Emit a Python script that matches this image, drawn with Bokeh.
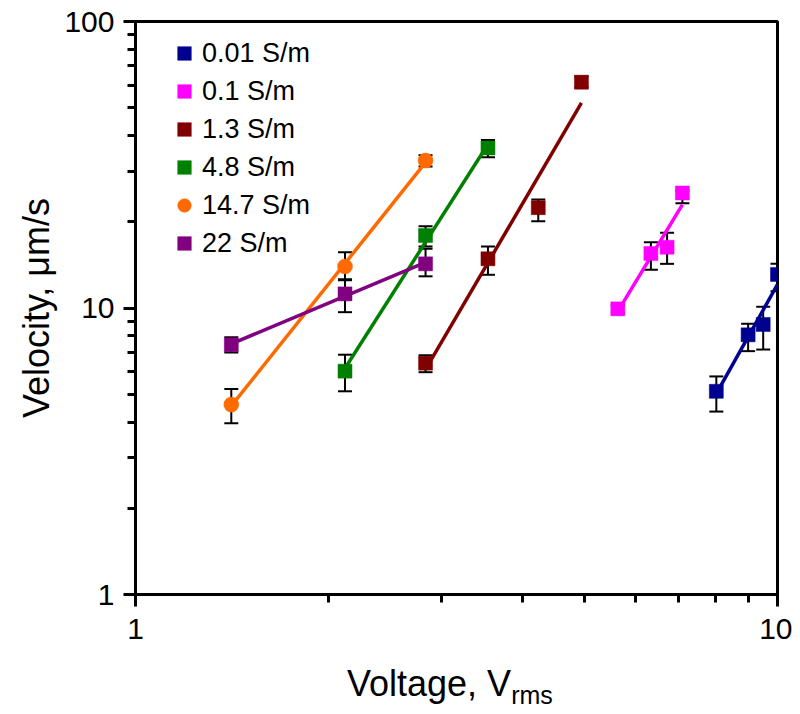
import numpy as np
from bokeh.plotting import figure
from bokeh.layouts import column
from bokeh.models import (ColumnDataSource, Range1d, FixedTicker, PrintfTickFormatter,
                          Whisker, TeeHead, Legend, LegendItem, Div)
from bokeh.embed import file_html
from bokeh.resources import INLINE

# ---------------- data ----------------
series_names = ["0.01 S/m", "0.1 S/m", "1.3 S/m", "4.8 S/m", "14.7 S/m", "22 S/m"]

v_001 = [8.03, 9.00, 9.50, 10.0]
u_001 = [5.12, 8.06, 8.76, 13.1]
lo_001 = [4.35, 7.07, 7.16, 11.45]
hi_001 = [5.77, 8.81, 10.1, 14.27]

v_01 = [5.64, 6.35, 6.73, 7.11]
u_01 = [9.93, 15.5, 16.3, 25.2]
lo_01 = [9.62, 13.6, 14.26, 23.2]
hi_01 = [10.25, 16.97, 18.3, 25.7]

v_13 = [2.83, 3.54, 4.24, 4.95]
u_13 = [6.42, 14.85, 22.4, 61.4]
lo_13 = [5.97, 13.06, 20.1, 59.0]
hi_13 = [6.84, 16.4, 23.9, 64.3]

v_48 = [2.12, 2.83, 3.54]
u_48 = [6.02, 17.9, 36.2]
lo_48 = [5.12, 16.4, 33.6]
hi_48 = [6.87, 19.3, 38.6]

v_147 = [1.41, 2.12, 2.83]
u_147 = [4.60, 13.96, 32.7]
lo_147 = [3.96, 12.6, 31.2]
hi_147 = [5.22, 15.66, 34.1]

v_22 = [1.41, 2.12, 2.83]
u_22 = [7.44, 11.2, 14.26]
lo_22 = [7.0, 9.67, 12.9]
hi_22 = [7.9, 12.5, 16.1]

x_major_ticks = [1, 10]
x_minor_ticks = [2, 3, 4, 5, 6, 7, 8, 9]
y_major_ticks = [1, 10, 100]
y_minor_ticks = [2, 3, 4, 5, 6, 7, 8, 9, 20, 30, 40, 50, 60, 70, 80, 90]

x_title = "Voltage, V"
x_title_sub = "rms"
y_title = "Velocity, μm/s"

colors = ["#000090", "#ff00ff", "#800000", "#008000", "#ff6a00", "#800080"]
markers = ["square", "square", "square", "square", "circle", "square"]

all_series = [
    (v_001, u_001, lo_001, hi_001),
    (v_01, u_01, lo_01, hi_01),
    (v_13, u_13, lo_13, hi_13),
    (v_48, u_48, lo_48, hi_48),
    (v_147, u_147, lo_147, hi_147),
    (v_22, u_22, lo_22, hi_22),
]

FONT = "Liberation Sans"

p = figure(width=792, height=655, x_axis_type="log", y_axis_type="log",
           x_range=Range1d(1, 10), y_range=Range1d(1, 100),
           output_backend="svg", toolbar_location=None,
           min_border_left=135, min_border_right=15,
           min_border_top=21, min_border_bottom=61)

p.xgrid.grid_line_color = None
p.ygrid.grid_line_color = None
p.outline_line_color = "black"
p.outline_line_width = 3
p.outline_line_alpha = 1.0
p.background_fill_color = "white"
p.border_fill_color = "white"

p.xaxis.ticker = FixedTicker(ticks=x_major_ticks, minor_ticks=x_minor_ticks)
p.yaxis.ticker = FixedTicker(ticks=y_major_ticks, minor_ticks=y_minor_ticks)
for ax in (p.xaxis[0], p.yaxis[0]):
    ax.formatter = PrintfTickFormatter(format="%d")
    ax.axis_line_width = 3
    ax.axis_line_color = "black"
    ax.major_tick_line_width = 3
    ax.minor_tick_line_width = 3
    ax.major_tick_line_color = "black"
    ax.minor_tick_line_color = "black"
    ax.major_tick_in = 0
    ax.major_tick_out = 12
    ax.minor_tick_in = 0
    ax.minor_tick_out = 8
    ax.major_label_text_font = FONT
    ax.major_label_text_font_size = "30px"
    ax.major_label_text_color = "black"
    ax.axis_label_text_font = FONT
    ax.axis_label_text_font_size = "36px"
    ax.axis_label_text_font_style = "normal"
    ax.axis_label_text_color = "black"

p.xaxis.major_label_standoff = 12
p.yaxis.major_label_standoff = 9
p.yaxis.axis_label = y_title
p.yaxis.axis_label_standoff = 4
p.xaxis.axis_label = None

legend_items = []
for name, col, mk, (vx, vy, lo, hi) in zip(series_names, colors, markers, all_series):
    src = ColumnDataSource(dict(x=vx, y=vy, lo=lo, hi=hi))
    # power-law trend line fitted to the series
    k, b = np.polyfit(np.log10(vx), np.log10(vy), 1)
    fx = np.array([min(vx), max(vx)])
    fy = 10 ** (k * np.log10(fx) + b)
    p.line(fx, fy, line_color=col, line_width=3.5)
    w = Whisker(base="x", upper="hi", lower="lo", source=src, dimension="height",
                line_color="black", line_width=2,
                upper_head=TeeHead(size=14, line_width=2, line_color="black"),
                lower_head=TeeHead(size=14, line_width=2, line_color="black"))
    p.add_layout(w)
    r = p.scatter("x", "y", source=src, marker=mk, size=14 if mk == "square" else 15,
                  fill_color=col, line_color=col, line_width=0.5)
    legend_items.append(LegendItem(label=name, renderers=[r]))

legend = Legend(items=legend_items, location=(32, 334))
legend.border_line_color = None
legend.background_fill_alpha = 0
legend.label_text_font = FONT
legend.label_text_font_size = "27px"
legend.label_text_color = "black"
legend.glyph_width = 34
legend.glyph_height = 34
legend.label_height = 34
legend.label_standoff = 1
legend.spacing = 4
legend.padding = 15
legend.margin = 0
p.add_layout(legend, "center")

xlabel = Div(
    text=(f'{x_title}<span style="font-size:25px; vertical-align:-8px">'
          f'{x_title_sub}</span>'),
    width=440, height=44, margin=(8, 0, 0, 347),
    styles={"font-family": FONT, "font-size": "36px", "color": "black",
            "line-height": "1.15", "white-space": "nowrap"})

layout = column(p, xlabel, spacing=0)
open("out.html", "w").write(file_html(layout, INLINE))
